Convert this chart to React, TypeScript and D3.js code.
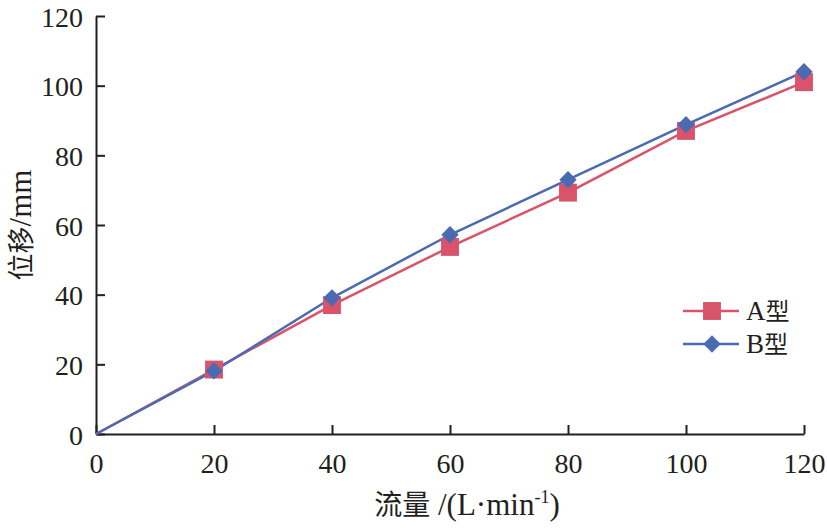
import { useCallback, useEffect, useRef } from 'react';

import { axisBottom, axisLeft, line, scaleLinear, select, symbol, symbolSquare } from 'd3';

const flow = [0, 20, 40, 60, 80, 100, 120];
const typeA = [0, 18.5, 37, 53.7, 69.3, 87, 101];
const typeB = [0, 18.1, 39.1, 57.2, 73, 88.8, 104];
const seriesNames = ['A型', 'B型'];
const xTicks = [0, 20, 40, 60, 80, 100, 120];
const yTicks = [0, 20, 40, 60, 80, 100, 120];

const serif = '"Liberation Serif", "Times New Roman", serif';
const cjk = '"Noto Sans CJK SC", sans-serif';

export default function App() {
  const containerRef = useRef<HTMLDivElement>(null);

  const initChart = useCallback(() => {
    const container = containerRef.current;
    if (!container) return;

    const width = 827,
      height = 529,
      left = 96,
      right = 804,
      top = 16,
      bottom = 434;

    const div = select(container);
    div.select('svg').remove();

    const svg = div
      .append('svg')
      .attr('width', width)
      .attr('height', height)
      .style('display', 'block')
      .style('background', 'white');

    const x = scaleLinear().domain([0, 120]).range([left, right]);
    const y = scaleLinear().domain([0, 120]).range([bottom, top]);

    // axes
    const xAxis = svg
      .append('g')
      .attr('transform', `translate(0,${bottom})`)
      .call(axisBottom(x).tickValues(xTicks).tickSize(-9).tickSizeOuter(0).tickPadding(19));
    const yAxis = svg
      .append('g')
      .attr('transform', `translate(${left},0)`)
      .call(axisLeft(y).tickValues(yTicks).tickSize(-9).tickSizeOuter(0).tickPadding(13));

    [xAxis, yAxis].forEach((g) => {
      g.select('.domain').attr('stroke', '#231f20').attr('stroke-width', 2);
      g.selectAll('.tick line').attr('stroke', '#231f20').attr('stroke-width', 2);
      g.selectAll('.tick text')
        .attr('font-family', serif)
        .attr('font-size', 28)
        .attr('fill', '#231f20');
    });
    yAxis.selectAll('.tick text').attr('dy', '0.36em');
    xAxis.selectAll('.tick text').attr('dy', '0.71em');

    // square rotated 45deg for the diamond marker
    const square = symbol(symbolSquare, 320)();
    const diamond = symbol(symbolSquare, 150)();
    const series = [
      { name: seriesNames[0], values: typeA, color: '#d9546a', d: square, rot: 0 },
      { name: seriesNames[1], values: typeB, color: '#4a6bb2', d: diamond, rot: 45 },
    ];

    const lineGen = line<number>()
      .x((_, i) => x(flow[i]))
      .y((d) => y(d));

    series.forEach((s) => {
      svg
        .append('path')
        .attr('d', lineGen(s.values))
        .attr('fill', 'none')
        .attr('stroke', s.color)
        .attr('stroke-width', 2.5);
    });

    series.forEach((s) => {
      svg
        .append('g')
        .selectAll('path')
        .data(s.values.map((v, i) => [flow[i], v]).filter((d) => d[0] > 0))
        .join('path')
        .attr('d', s.d)
        .attr('transform', (d) => `translate(${x(d[0])},${y(d[1])}) rotate(${s.rot})`)
        .attr('fill', s.color);
    });

    // legend
    const legend = svg.append('g').attr('transform', 'translate(683,311)');
    series.forEach((s, i) => {
      const row = legend.append('g').attr('transform', `translate(0,${i * 33})`);
      row.append('line').attr('x1', 0).attr('x2', 56).attr('stroke', s.color).attr('stroke-width', 2.5);
      row
        .append('path')
        .attr('d', s.d)
        .attr('transform', `translate(29,0) rotate(${s.rot})`)
        .attr('fill', s.color);
      const t = row
        .append('text')
        .attr('x', 63)
        .attr('dy', '0.34em')
        .attr('font-size', 27)
        .attr('fill', '#231f20');
      t.append('tspan').attr('font-family', serif).text(s.name.slice(0, 1));
      t.append('tspan').attr('font-family', cjk).attr('font-size', 24).text(s.name.slice(1));
    });

    // axis titles
    const xt = svg
      .append('text')
      .attr('x', 467)
      .attr('y', 515)
      .attr('text-anchor', 'middle')
      .attr('font-size', 31)
      .attr('fill', '#231f20');
    xt.append('tspan').attr('font-family', cjk).attr('font-size', 28).text('流量');
    xt.append('tspan').attr('font-family', serif).text(' /(L·min');
    xt.append('tspan').attr('font-family', serif).attr('font-size', 18).attr('dy', -12).text('-1');
    xt.append('tspan').attr('font-family', serif).attr('dy', 12).text(')');

    const yt = svg
      .append('text')
      .attr('transform', 'translate(31,225) rotate(-90)')
      .attr('text-anchor', 'middle')
      .attr('font-size', 31)
      .attr('fill', '#231f20');
    yt.append('tspan').attr('font-family', cjk).attr('font-size', 27).text('位移');
    yt.append('tspan').attr('font-family', serif).text('/mm');
  }, []);

  const destroyChart = useCallback(() => {
    const container = containerRef.current;
    if (!container) return;

    select(container).select('svg').remove();
  }, []);

  useEffect(() => {
    initChart();
    return destroyChart;
  }, [destroyChart, initChart]);

  return <div ref={containerRef} style={{ position: 'absolute', left: 0, top: 0 }} />;
}
